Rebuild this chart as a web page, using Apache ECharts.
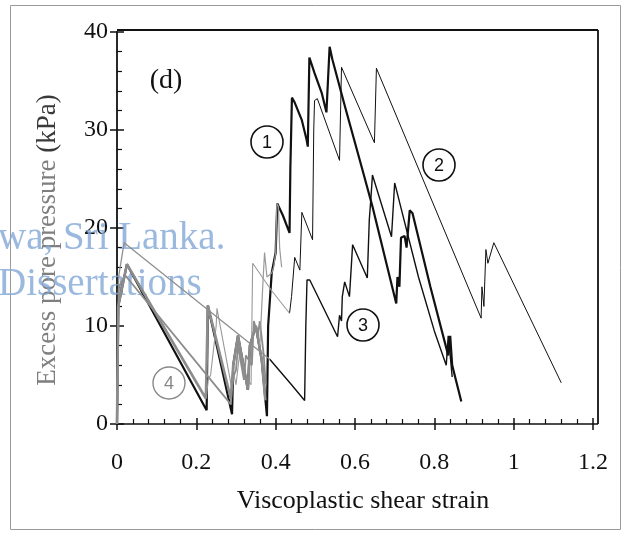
<!DOCTYPE html>
<html><head><meta charset="utf-8">
<script src="https://cdn.jsdelivr.net/npm/echarts@6/dist/echarts.min.js"></script>
<style>html,body{margin:0;padding:0;background:#fff}#c{width:627px;height:536px}</style>
</head><body><div id="c"></div>
<script>
// ---- data (strain, excess pore pressure kPa) ----
const curve1 = [[0,0],[0.003,12],[0.025,16.3],[0.226,1.4],[0.229,12.1],[0.29,1.0],[0.293,6],[0.305,9],[0.33,3.5],[0.335,8],[0.35,10],[0.365,6.5],[0.378,0.8],[0.381,10],[0.39,15.4],[0.40,17.5],[0.404,22.5],[0.418,21.3],[0.435,19.5],[0.437,26],[0.441,33.3],[0.448,32.8],[0.466,31],[0.478,29],[0.481,28.3],[0.485,37.4],[0.498,35.8],[0.516,33.8],[0.528,31.8],[0.536,38.5],[0.543,37.2],[0.574,32.5],[0.617,26.2],[0.644,22.2],[0.704,12.3],[0.707,15],[0.712,14],[0.716,19],[0.725,19.2],[0.73,18],[0.738,21.8],[0.745,21.5],[0.79,14],[0.835,7],[0.84,9],[0.845,6],[0.868,2.3]];
const curve2Early = [[0.226,3],[0.23,4.5],[0.236,5],[0.25,10],[0.252,11.8],[0.29,3.5],[0.295,5],[0.3,4],[0.31,7.5],[0.32,5],[0.338,4],[0.342,16.4],[0.39,13.6],[0.435,11.3]];
const curve2 = [[0.435,11.3],[0.44,13],[0.448,17],[0.461,15.7],[0.466,21.6],[0.493,18.8],[0.496,30],[0.498,33],[0.505,33.2],[0.561,26.9],[0.566,36.4],[0.649,28.7],[0.654,36.3],[0.918,10.8],[0.92,14],[0.925,12],[0.93,17.8],[0.935,16.4],[0.95,18.5],[1.12,4.2]];
const curve3Early = [[0,0],[0.004,15],[0.018,18.5],[0.385,6.6]];
const curve3 = [[0.385,6.6],[0.44,4],[0.473,2.4],[0.476,10],[0.479,14.7],[0.486,14.7],[0.556,8.9],[0.561,11.1],[0.566,10.5],[0.568,13],[0.574,14.5],[0.586,13],[0.594,18.3],[0.631,14.9],[0.636,20.8],[0.64,23],[0.644,25.4],[0.692,19.1],[0.70,24.6],[0.76,15],[0.80,9.5],[0.83,6],[0.835,9],[0.84,7],[0.845,4.8]];
const curve4a = [[0,0],[0.003,12],[0.025,16.3],[0.224,2.6],[0.229,12.1],[0.287,2.6],[0.293,6],[0.305,9],[0.33,3.5],[0.335,8],[0.35,10],[0.365,6.5],[0.374,2.4]];
const curve4b = [[0,0],[0.005,14],[0.02,15.2],[0.287,2.0],[0.29,4.5],[0.3,5.5],[0.305,8],[0.32,4.5],[0.325,7],[0.34,6],[0.345,10.5],[0.355,9],[0.36,10.5],[0.37,7],[0.375,4]];
const curve4c = [[0.36,8],[0.368,14.5],[0.372,17.5],[0.378,15],[0.39,15.4],[0.395,16],[0.40,17.5],[0.403,22.5],[0.407,22.2],[0.41,18],[0.415,16]];
const xRange = [0, 1.2, 0.2];
const yRange = [0, 40, 10];
const xTitle = 'Viscoplastic shear strain';
const yTitleMain = 'Excess pore pressure';
const yTitleUnit = '(kPa)';
const panelLabel = '(d)';
const curveLabels = ['1','2','3','4'];

const BLACK = '#111', GRAY = '#8c8c8c';
const SERIF = 'Liberation Serif';
const chart = echarts.init(document.getElementById('c'), null, {renderer:'canvas'});
const gridRect = {left:117, top:32, width:476, height:392};
function ln(data, color, width, z){
  return {type:'line', data, xAxisIndex:0, yAxisIndex:0, showSymbol:false, symbol:'none',
    lineStyle:{color, width}, z, animation:false, silent:true};
}
const lab = {fontFamily:SERIF, fontSize:24, color:BLACK};
function txt(x, y, text, font, fill){
  return {type:'text', x, y, z:10, style:{text, font, fill, textAlign:'center', textVerticalAlign:'middle', align:'center', verticalAlign:'middle'}};
}
chart.setOption({
  backgroundColor:'#fff',
  animation:false,
  grid:[Object.assign({},gridRect), Object.assign({},gridRect)],
  xAxis:[
    {type:'value', gridIndex:0, min:xRange[0], max:xRange[1], interval:xRange[2],
     axisLine:{lineStyle:{color:BLACK,width:1.5}}, axisTick:{inside:false,length:6,lineStyle:{color:BLACK,width:1.5}},
     axisLabel:Object.assign({margin:27},lab), splitLine:{show:false},
     name:xTitle, nameLocation:'middle', nameGap:64,
     nameTextStyle:{fontFamily:SERIF,fontSize:26,color:BLACK,padding:[0,0,0,16]}},
    {type:'value', gridIndex:1, min:xRange[0], max:xRange[1], interval:xRange[2],
     axisLine:{show:false}, axisTick:{inside:true,length:6,lineStyle:{color:BLACK,width:1.5}},
     minorTick:{show:true,splitNumber:5,length:5,lineStyle:{color:BLACK,width:1.2}},
     axisLabel:{show:false}, splitLine:{show:false}}
  ],
  yAxis:[
    {type:'value', gridIndex:0, min:yRange[0], max:yRange[1], interval:yRange[2],
     axisLine:{lineStyle:{color:BLACK,width:1.8}}, axisTick:{inside:false,length:7,lineStyle:{color:BLACK,width:1.5}},
     axisLabel:Object.assign({margin:9},lab), splitLine:{show:false},
     name:'{g|'+yTitleMain+'} {d|'+yTitleUnit+'}', nameLocation:'middle', nameGap:56,
     nameTextStyle:{fontFamily:SERIF,fontSize:27,padding:[0,24,0,0],
       rich:{g:{fontFamily:SERIF,fontSize:27,color:'#7f7f7f'},d:{fontFamily:SERIF,fontSize:27,color:'#3a3a3a'}}}},
    {type:'value', gridIndex:1, min:yRange[0], max:yRange[1], interval:yRange[2],
     axisLine:{show:false}, axisTick:{inside:true,length:7,lineStyle:{color:BLACK,width:1.5}},
     minorTick:{show:true,splitNumber:5,length:5,lineStyle:{color:BLACK,width:1.2}},
     axisLabel:{show:false}, splitLine:{show:false}}
  ],
  series:[
    ln(curve1, BLACK, 2.2, 2),
    ln(curve2, BLACK, 1, 2),
    ln(curve3, BLACK, 1.4, 2),
    ln(curve2Early, '#999', 1.1, 3),
    ln(curve3Early, '#8f8f8f', 1.3, 3),
    ln(curve4a, GRAY, 2.6, 3),
    ln(curve4b, GRAY, 1.8, 3),
    ln(curve4c, '#9a9a9a', 1.2, 3)
  ],
  graphic:[
    {type:'rect', shape:{x:10.5,y:5.5,width:610,height:524}, style:{fill:'none',stroke:'#9a9a9a',lineWidth:1}, silent:true, z:0},
    {type:'line', shape:{x1:117,y1:30,x2:598,y2:30}, style:{stroke:BLACK,lineWidth:1.8}, z:10},
    {type:'line', shape:{x1:598,y1:30,x2:598,y2:424}, style:{stroke:BLACK,lineWidth:1.8}, z:10},
    {type:'line', shape:{x1:593,y1:424,x2:598,y2:424}, style:{stroke:BLACK,lineWidth:1.5}, z:10},
    txt(166, 81, panelLabel, '28px '+SERIF, BLACK),
    {type:'circle', shape:{cx:267,cy:142,r:16}, style:{fill:'none',stroke:BLACK,lineWidth:1.6}, z:10},
    txt(267, 143, curveLabels[0], '18px Liberation Sans', BLACK),
    {type:'circle', shape:{cx:439,cy:165,r:16}, style:{fill:'none',stroke:BLACK,lineWidth:1.6}, z:10},
    txt(439, 166, curveLabels[1], '18px Liberation Sans', BLACK),
    {type:'circle', shape:{cx:363,cy:325,r:16}, style:{fill:'none',stroke:BLACK,lineWidth:1.6}, z:10},
    txt(363, 326, curveLabels[2], '18px Liberation Sans', BLACK),
    {type:'circle', shape:{cx:169,cy:383,r:16}, style:{fill:'none',stroke:'#888',lineWidth:1.4}, z:10},
    txt(169, 384, curveLabels[3], '18px Liberation Sans', '#888'),
    {type:'text', x:-2, y:258, style:{text:'wa, Sri Lanka.', font:'39px '+SERIF, fill:'rgba(130,168,214,0.8)', textAlign:'left', textVerticalAlign:'bottom', align:'left', verticalAlign:'bottom'}, z:1},
    {type:'text', x:-2, y:304, style:{text:'Dissertations', font:'39px '+SERIF, fill:'rgba(130,168,214,0.8)', textAlign:'left', textVerticalAlign:'bottom', align:'left', verticalAlign:'bottom'}, z:1}
  ]
});
</script></body></html>
